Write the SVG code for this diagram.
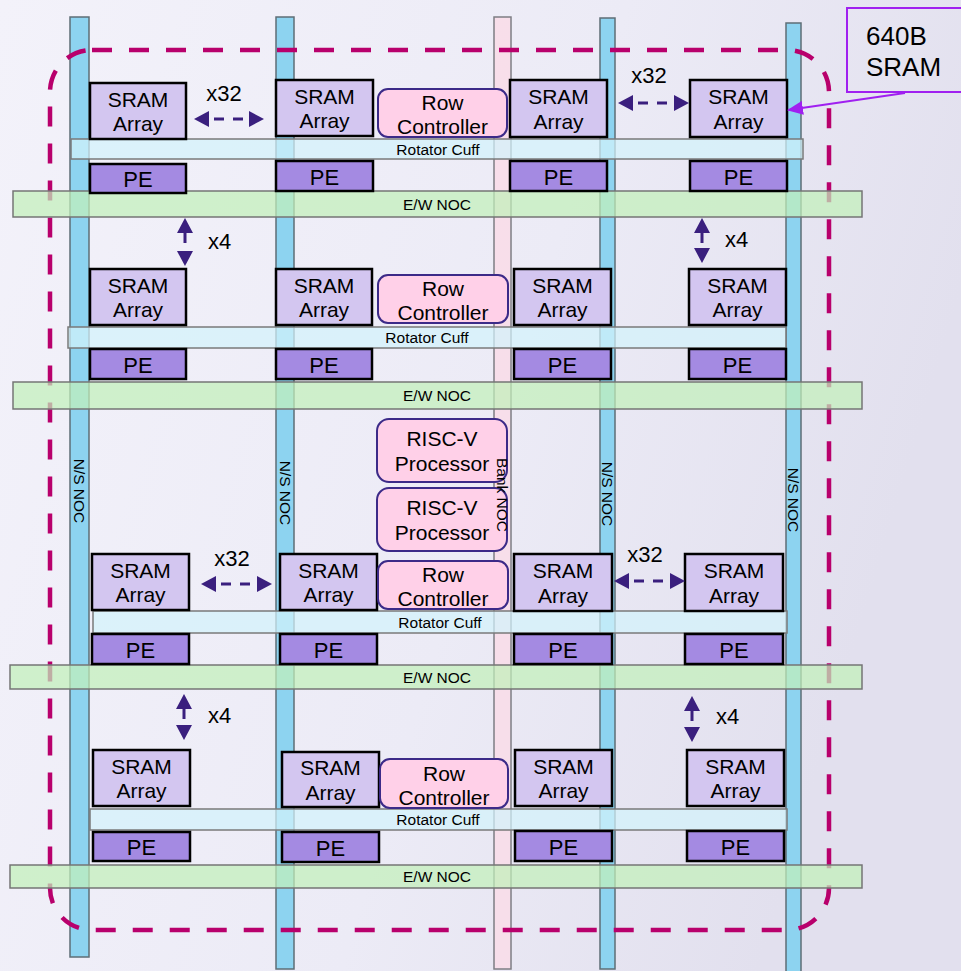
<svg xmlns="http://www.w3.org/2000/svg" width="961" height="971" viewBox="0 0 961 971">
<defs>
<linearGradient id="bg" x1="0" y1="0" x2="1" y2="0.3">
<stop offset="0" stop-color="#F3F2FA"/>
<stop offset="0.6" stop-color="#ECEBF6"/>
<stop offset="1" stop-color="#E2E0EE"/>
</linearGradient>
<marker id="ah" viewBox="0 0 15 16" refX="0" refY="8" markerWidth="15" markerHeight="16" markerUnits="userSpaceOnUse" orient="auto-start-reverse">
<path d="M0,0 L15,8 L0,16 z" fill="#3A1F7E"/>
</marker>
<marker id="vh" viewBox="0 0 16 14" refX="15" refY="7" markerWidth="16" markerHeight="14" markerUnits="userSpaceOnUse" orient="auto">
<path d="M0,0 L16,7 L0,14 z" fill="#A020F0"/>
</marker>
<style>
text{font-family:"Liberation Sans",Arial,Helvetica,sans-serif;fill:#000;text-anchor:middle}
.ns{fill:#8DD3F0;stroke:#5E6E76;stroke-width:1.5}
.bank{fill:#F9DCE8;fill-opacity:0.85;stroke:#7E7E84;stroke-width:1.5}
.cuff{fill:#D2F3FB;fill-opacity:0.72;stroke:#7A7A7A;stroke-width:1.5}
.ew{fill:#C2F0BA;fill-opacity:0.72;stroke:#757575;stroke-width:1.5}
.sram{fill:#D3C6F0;stroke:#000;stroke-width:2.5}
.pe{fill:#A48AE2;stroke:#000;stroke-width:2.5}
.rc{fill:#FFD0E8;stroke:#3C2A88;stroke-width:2}
.t21{font-size:21px}
.t22{font-size:22px}
.sm{font-size:15.5px}
.lab{font-size:22px;text-anchor:start}
.arr{stroke:#3A1F7E;stroke-width:3;fill:none;stroke-dasharray:10 9;marker-start:url(#ah);marker-end:url(#ah)}
</style>
</defs>
<rect x="0" y="0" width="961" height="971" fill="url(#bg)"/>

<g id="ns-noc">
<rect id="ns1" class="ns" x="70" y="17" width="19" height="940"/>
<rect id="ns2" class="ns" x="276" y="17" width="18" height="952"/>
<rect id="bank-noc" class="bank" x="494" y="17" width="17" height="952"/>
<rect id="ns4" class="ns" x="600" y="18" width="15" height="951"/>
<rect id="ns5" class="ns" x="786" y="23" width="15" height="960"/>
</g>

<g id="boundary">
<rect x="50" y="50" width="779" height="880" rx="42" ry="42" fill="none" stroke="#B8006C" stroke-width="4.5" stroke-dasharray="20 17"/>
</g>

<g id="rotator-cuffs">
<rect class="cuff" x="71" y="139" width="732" height="20"/>
<rect class="cuff" x="68" y="327" width="718" height="21"/>
<rect class="cuff" x="93" y="611" width="694" height="22"/>
<rect class="cuff" x="90" y="809" width="697" height="21"/>
<text class="sm" x="438" y="155">Rotator Cuff</text>
<text class="sm" x="427" y="343">Rotator Cuff</text>
<text class="sm" x="440" y="627.5">Rotator Cuff</text>
<text class="sm" x="438" y="825">Rotator Cuff</text>
</g>

<g id="ew-noc">
<rect class="ew" x="13" y="191" width="849" height="26"/>
<rect class="ew" x="13" y="382" width="849" height="27"/>
<rect class="ew" x="10" y="665" width="852" height="24"/>
<rect class="ew" x="10" y="865" width="852" height="23"/>
<text class="sm" x="437" y="209.5">E/W NOC</text>
<text class="sm" x="437" y="401">E/W NOC</text>
<text class="sm" x="437" y="682.5">E/W NOC</text>
<text class="sm" x="437" y="882">E/W NOC</text>
</g>

<!-- Row 1 -->
<g id="sram-r1c1"><rect class="sram" x="90" y="83" width="96" height="56"/><text class="t21" x="138" y="106.5">SRAM</text><text class="t21" x="138" y="131">Array</text></g>
<g id="sram-r1c2"><rect class="sram" x="276" y="80" width="97" height="56"/><text class="t21" x="324.5" y="103.5">SRAM</text><text class="t21" x="324.5" y="128">Array</text></g>
<g id="rowctrl-r1"><rect class="rc" x="378" y="89" width="129" height="48" rx="10"/><text class="t21" x="442.5" y="110">Row</text><text class="t21" x="442.5" y="134">Controller</text></g>
<g id="sram-r1c3"><rect class="sram" x="510" y="80" width="97" height="57"/><text class="t21" x="558.5" y="104">SRAM</text><text class="t21" x="558.5" y="128.5">Array</text></g>
<g id="sram-r1c4"><rect class="sram" x="690" y="80" width="97" height="57"/><text class="t21" x="738.5" y="104">SRAM</text><text class="t21" x="738.5" y="128.5">Array</text></g>
<g id="pe-r1c1"><rect class="pe" x="90" y="164" width="96" height="29"/><text class="t22" x="138" y="187">PE</text></g>
<g id="pe-r1c2"><rect class="pe" x="276" y="161" width="97" height="30"/><text class="t22" x="324.5" y="184.5">PE</text></g>
<g id="pe-r1c3"><rect class="pe" x="510" y="161" width="97" height="30"/><text class="t22" x="558.5" y="184.5">PE</text></g>
<g id="pe-r1c4"><rect class="pe" x="690" y="161" width="97" height="30"/><text class="t22" x="738.5" y="184.5">PE</text></g>

<!-- Row 2 -->
<g id="sram-r2c1"><rect class="sram" x="90" y="269" width="96" height="56"/><text class="t21" x="138" y="292.5">SRAM</text><text class="t21" x="138" y="317">Array</text></g>
<g id="sram-r2c2"><rect class="sram" x="276" y="269" width="96" height="56"/><text class="t21" x="324" y="292.5">SRAM</text><text class="t21" x="324" y="317">Array</text></g>
<g id="rowctrl-r2"><rect class="rc" x="378" y="275" width="130" height="48" rx="10"/><text class="t21" x="443" y="296">Row</text><text class="t21" x="443" y="320">Controller</text></g>
<g id="sram-r2c3"><rect class="sram" x="514" y="269" width="97" height="56"/><text class="t21" x="562.5" y="292.5">SRAM</text><text class="t21" x="562.5" y="317">Array</text></g>
<g id="sram-r2c4"><rect class="sram" x="689" y="269" width="97" height="56"/><text class="t21" x="737.5" y="292.5">SRAM</text><text class="t21" x="737.5" y="317">Array</text></g>
<g id="pe-r2c1"><rect class="pe" x="90" y="349" width="96" height="30"/><text class="t22" x="138" y="372.5">PE</text></g>
<g id="pe-r2c2"><rect class="pe" x="276" y="349" width="96" height="30"/><text class="t22" x="324" y="372.5">PE</text></g>
<g id="pe-r2c3"><rect class="pe" x="514" y="349" width="97" height="30"/><text class="t22" x="562.5" y="372.5">PE</text></g>
<g id="pe-r2c4"><rect class="pe" x="689" y="349" width="97" height="30"/><text class="t22" x="737.5" y="372.5">PE</text></g>

<!-- RISC-V -->
<g id="riscv-1"><rect class="rc" x="377" y="419" width="130" height="63" rx="12"/><text class="t21" x="442" y="446">RISC-V</text><text class="t21" x="442" y="471">Processor</text></g>
<g id="riscv-2"><rect class="rc" x="377" y="488" width="130" height="63" rx="12"/><text class="t21" x="442" y="515">RISC-V</text><text class="t21" x="442" y="540">Processor</text></g>

<!-- Row 3 -->
<g id="sram-r3c1"><rect class="sram" x="92" y="554" width="97" height="56"/><text class="t21" x="140.5" y="577.5">SRAM</text><text class="t21" x="140.5" y="602">Array</text></g>
<g id="sram-r3c2"><rect class="sram" x="280" y="554" width="97" height="56"/><text class="t21" x="328.5" y="577.5">SRAM</text><text class="t21" x="328.5" y="602">Array</text></g>
<g id="rowctrl-r3"><rect class="rc" x="378" y="561" width="130" height="48" rx="10"/><text class="t21" x="443" y="582">Row</text><text class="t21" x="443" y="606">Controller</text></g>
<g id="sram-r3c3"><rect class="sram" x="514" y="554" width="98" height="57"/><text class="t21" x="563" y="578">SRAM</text><text class="t21" x="563" y="602.5">Array</text></g>
<g id="sram-r3c4"><rect class="sram" x="685" y="554" width="98" height="57"/><text class="t21" x="734" y="578">SRAM</text><text class="t21" x="734" y="602.5">Array</text></g>
<g id="pe-r3c1"><rect class="pe" x="92" y="634" width="97" height="30"/><text class="t22" x="140.5" y="657.5">PE</text></g>
<g id="pe-r3c2"><rect class="pe" x="280" y="634" width="97" height="30"/><text class="t22" x="328.5" y="657.5">PE</text></g>
<g id="pe-r3c3"><rect class="pe" x="514" y="634" width="98" height="30"/><text class="t22" x="563" y="657.5">PE</text></g>
<g id="pe-r3c4"><rect class="pe" x="685" y="634" width="98" height="30"/><text class="t22" x="734" y="657.5">PE</text></g>

<!-- Row 4 -->
<g id="sram-r4c1"><rect class="sram" x="93" y="750" width="97" height="56"/><text class="t21" x="141.5" y="773.5">SRAM</text><text class="t21" x="141.5" y="798">Array</text></g>
<g id="sram-r4c2"><rect class="sram" x="282" y="752" width="97" height="55"/><text class="t21" x="330.5" y="775">SRAM</text><text class="t21" x="330.5" y="799.5">Array</text></g>
<g id="rowctrl-r4"><rect class="rc" x="380" y="759" width="128" height="49" rx="10"/><text class="t21" x="444" y="780.5">Row</text><text class="t21" x="444" y="804.5">Controller</text></g>
<g id="sram-r4c3"><rect class="sram" x="515" y="750" width="97" height="56"/><text class="t21" x="563.5" y="773.5">SRAM</text><text class="t21" x="563.5" y="798">Array</text></g>
<g id="sram-r4c4"><rect class="sram" x="687" y="750" width="97" height="56"/><text class="t21" x="735.5" y="773.5">SRAM</text><text class="t21" x="735.5" y="798">Array</text></g>
<g id="pe-r4c1"><rect class="pe" x="93" y="832" width="97" height="29"/><text class="t22" x="141.5" y="855">PE</text></g>
<g id="pe-r4c2"><rect class="pe" x="282" y="832" width="97" height="30"/><text class="t22" x="330.5" y="855.5">PE</text></g>
<g id="pe-r4c3"><rect class="pe" x="515" y="831" width="97" height="30"/><text class="t22" x="563.5" y="854.5">PE</text></g>
<g id="pe-r4c4"><rect class="pe" x="687" y="831" width="97" height="30"/><text class="t22" x="735.5" y="854.5">PE</text></g>

<g id="noc-labels">
<text class="sm" x="79" y="496.5" transform="rotate(90 79 491)">N/S NOC</text>
<text class="sm" x="285" y="498.5" transform="rotate(90 285 493)">N/S NOC</text>
<text class="sm" x="502.5" y="500.5" transform="rotate(90 502.5 495)">Bank NOC</text>
<text class="sm" x="607.5" y="499.5" transform="rotate(90 607.5 494)">N/S NOC</text>
<text class="sm" x="793.5" y="505.5" transform="rotate(90 793.5 500)">N/S NOC</text>
</g>

<g id="callout">
<rect x="847" y="8" width="125" height="84" fill="none" stroke="#A020F0" stroke-width="2"/>
<text x="866" y="45" style="font-size:26px;text-anchor:start">640B</text>
<text x="866" y="76" style="font-size:26px;text-anchor:start">SRAM</text>
</g>

<g id="connectors">
<line class="arr" x1="209" y1="119" x2="249" y2="119" stroke-dashoffset="14"/>
<line class="arr" x1="633" y1="103" x2="674" y2="103" stroke-dashoffset="14"/>
<line class="arr" x1="216" y1="584" x2="257" y2="584" stroke-dashoffset="14"/>
<line class="arr" x1="629" y1="581" x2="670" y2="581" stroke-dashoffset="14"/>
<line class="arr" x1="185" y1="233" x2="185" y2="251"/>
<line class="arr" x1="702" y1="233" x2="702" y2="248"/>
<line class="arr" x1="184" y1="709" x2="184" y2="725"/>
<line class="arr" x1="692" y1="711" x2="692" y2="727"/>
<line x1="905" y1="93" x2="788" y2="110" stroke="#A020F0" stroke-width="2" marker-end="url(#vh)"/>
<text class="t22" x="224" y="101">x32</text>
<text class="t22" x="649" y="83">x32</text>
<text class="t22" x="232" y="566">x32</text>
<text class="t22" x="645" y="562">x32</text>
<text class="lab" x="208" y="249">x4</text>
<text class="lab" x="725" y="247">x4</text>
<text class="lab" x="208" y="723">x4</text>
<text class="lab" x="716" y="724">x4</text>
</g>
</svg>
